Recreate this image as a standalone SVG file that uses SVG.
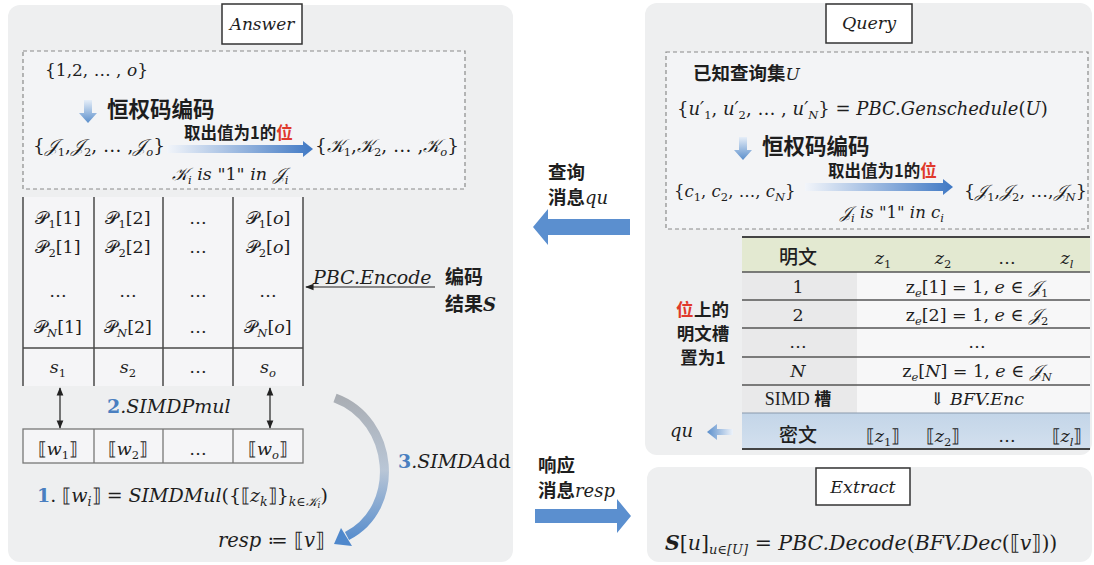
<svg xmlns="http://www.w3.org/2000/svg" width="1094" height="565" viewBox="0 0 1094 565">
<defs>
<style>
.pn{fill:#eeeff0}
.lbl{fill:#fff;stroke:#333;stroke-width:1.5}
.dash{fill:#f3f4f6;stroke:#8a8a8a;stroke-width:1.2;stroke-dasharray:4 3}
.m{font-family:"DejaVu Serif","Liberation Serif",serif;fill:#1e1e1e}
.i{font-style:italic}
.c{text-anchor:middle}
.zh{font-family:"Noto Sans CJK SC",sans-serif;font-weight:700;fill:#1e1e1e}
.sb{font-size:11.5px}
.bl{fill:#4a7fc0;font-weight:bold;font-style:normal}
.red{fill:#e0392b}
.ln{stroke:#4a4a4a;stroke-width:1.5;fill:none}
.thin{stroke:#222;stroke-width:1.2;fill:none}
.big{fill:#5b8fcf}
</style>
<linearGradient id="gv" x1="0" y1="0" x2="0" y2="1"><stop offset="0" stop-color="#e6eef8"/><stop offset="1" stop-color="#5a8ecb"/></linearGradient>
<linearGradient id="gh" x1="0" y1="0" x2="1" y2="0"><stop offset="0" stop-color="#f2f5fa"/><stop offset="1" stop-color="#3f78c4"/></linearGradient>
<linearGradient id="ghl" x1="1" y1="0" x2="0" y2="0"><stop offset="0" stop-color="#eef3fa"/><stop offset="1" stop-color="#5a8ecb"/></linearGradient>
<linearGradient id="gc" gradientUnits="userSpaceOnUse" x1="0" y1="395" x2="0" y2="545"><stop offset="0" stop-color="#a9adb3"/><stop offset="0.5" stop-color="#b9c6d6"/><stop offset="1" stop-color="#4f88cc"/></linearGradient>
<linearGradient id="gblue" x1="0" y1="0" x2="0" y2="1"><stop offset="0" stop-color="#c3d5e8"/><stop offset="1" stop-color="#d3e0ee"/></linearGradient>
<marker id="ah" viewBox="0 0 10 10" refX="9" refY="5" markerWidth="7" markerHeight="7" orient="auto-start-reverse"><path d="M0,1 L10,5 L0,9 z" fill="#222"/></marker>
</defs>
<rect width="1094" height="565" fill="#ffffff"/>

<!-- Answer panel -->
<g id="answer">
<rect class="pn" x="8" y="5" width="505" height="557" rx="12"/>
<rect class="lbl" x="222" y="4" width="80" height="40"/>
<text class="m i c" x="262" y="30" font-size="17">Answer</text>
</g>

<g id="answer-encode">
<rect class="dash" x="23" y="51" width="442" height="138"/>
<text class="m" x="45" y="76" font-size="17">{1,2, … , <tspan class="i">o</tspan>}</text>
<path d="M84,100 H92 V113 H97 L88,123 L79,113 H84 Z" fill="url(#gv)"/>
<text class="zh" x="107" y="117" font-size="21.5">恒权码编码</text>
<text class="m" x="33" y="152" font-size="18.5">{<tspan class="i">𝒥</tspan><tspan class="sb" dy="4">1</tspan><tspan dy="-4">,</tspan><tspan class="i">𝒥</tspan><tspan class="sb" dy="4">2</tspan><tspan dy="-4">, … ,</tspan><tspan class="i">𝒥</tspan><tspan class="sb i" dy="4">o</tspan><tspan dy="-4">}</tspan></text>
<path d="M167,145 H303 V141 L313,149 L303,157 V153 H167 Z" fill="url(#gh)"/>
<text class="zh" x="184" y="139" font-size="16.5">取出值为1的<tspan class="red">位</tspan></text>
<text class="m" x="315" y="152" font-size="18.5">{<tspan class="i">𝒦</tspan><tspan class="sb" dy="4">1</tspan><tspan dy="-4">,</tspan><tspan class="i">𝒦</tspan><tspan class="sb" dy="4">2</tspan><tspan dy="-4">, … ,</tspan><tspan class="i">𝒦</tspan><tspan class="sb i" dy="4">o</tspan><tspan dy="-4">}</tspan></text>
<text class="m i" x="172" y="180" font-size="17.5">𝒦<tspan class="sb" dy="4">i</tspan><tspan dy="-4"> is </tspan><tspan font-style="normal">"1"</tspan> in 𝒥<tspan class="sb" dy="4">i</tspan></text>
</g>

<g id="answer-table">
<rect x="23" y="197" width="280" height="189" fill="#f5f5f7"/>
<path class="ln" d="M23,197 V386 M94,197 V386 M163,197 V386 M233,197 V386 M303,197 V386 M23,348 H303"/>
<g class="m c" font-size="17.5">
<text x="58" y="224">𝒫<tspan class="sb" dy="4">1</tspan><tspan dy="-4">[1]</tspan></text>
<text x="128" y="224">𝒫<tspan class="sb" dy="4">1</tspan><tspan dy="-4">[2]</tspan></text>
<text x="198" y="224">…</text>
<text x="268" y="224">𝒫<tspan class="sb" dy="4">1</tspan><tspan dy="-4">[<tspan class="i">o</tspan>]</tspan></text>
<text x="58" y="253">𝒫<tspan class="sb" dy="4">2</tspan><tspan dy="-4">[1]</tspan></text>
<text x="128" y="253">𝒫<tspan class="sb" dy="4">2</tspan><tspan dy="-4">[2]</tspan></text>
<text x="198" y="253">…</text>
<text x="268" y="253">𝒫<tspan class="sb" dy="4">2</tspan><tspan dy="-4">[<tspan class="i">o</tspan>]</tspan></text>
<text x="58" y="297">…</text>
<text x="128" y="297">…</text>
<text x="198" y="297">…</text>
<text x="268" y="297">…</text>
<text x="58" y="333">𝒫<tspan class="sb i" dy="4">N</tspan><tspan dy="-4">[1]</tspan></text>
<text x="128" y="333">𝒫<tspan class="sb i" dy="4">N</tspan><tspan dy="-4">[2]</tspan></text>
<text x="198" y="333">…</text>
<text x="268" y="333">𝒫<tspan class="sb i" dy="4">N</tspan><tspan dy="-4">[<tspan class="i">o</tspan>]</tspan></text>
<text x="58" y="373"><tspan class="i">s</tspan><tspan class="sb" dy="4">1</tspan></text>
<text x="128" y="373"><tspan class="i">s</tspan><tspan class="sb" dy="4">2</tspan></text>
<text x="198" y="373">…</text>
<text x="268" y="373"><tspan class="i">s</tspan><tspan class="sb i" dy="4">o</tspan></text>
</g>
</g>

<g id="encode-label">
<text class="m i" x="313" y="284" font-size="19">PBC.Encode</text>
<text class="zh" x="445" y="284" font-size="19">编码</text>
<text class="zh" x="445" y="311" font-size="19">结果<tspan class="m i" font-weight="bold" font-size="18">S</tspan></text>
</g>

<g id="w-row">
<rect x="23" y="429" width="280" height="34" fill="#f5f5f7" stroke="#777" stroke-width="1.3"/>
<path d="M94,429 V463 M163,429 V463 M233,429 V463" stroke="#777" stroke-width="1.3"/>
<g class="m c" font-size="17.5">
<text x="58" y="455">⟦<tspan class="i">w</tspan><tspan class="sb" dy="4">1</tspan><tspan dy="-4">⟧</tspan></text>
<text x="128" y="455">⟦<tspan class="i">w</tspan><tspan class="sb" dy="4">2</tspan><tspan dy="-4">⟧</tspan></text>
<text x="198" y="455">…</text>
<text x="268" y="455">⟦<tspan class="i">w</tspan><tspan class="sb i" dy="4">o</tspan><tspan dy="-4">⟧</tspan></text>
</g>
<text class="m i" x="107" y="413" font-size="19"><tspan class="bl">2</tspan>.SIMDPmul</text>
<text class="m" x="37" y="502" font-size="19"><tspan class="bl">1</tspan>. ⟦<tspan class="i">w</tspan><tspan class="i" font-size="12.5" dy="4">i</tspan><tspan dy="-4">⟧ = </tspan><tspan class="i">SIMDMul</tspan>({⟦<tspan class="i">z</tspan><tspan class="i" font-size="12.5" dy="4">k</tspan><tspan dy="-4">⟧}</tspan><tspan class="i" font-size="12.5" dy="4">k∈𝒦</tspan><tspan class="i" font-size="9" dy="2">i</tspan><tspan dy="-6">)</tspan></text>
<text class="m i" x="398" y="468" font-size="19"><tspan class="bl">3</tspan>.SIMDA<tspan font-style="normal">dd</tspan></text>
<text class="m i" x="218" y="547" font-size="19.5">resp <tspan font-style="normal">≔ ⟦</tspan>v<tspan font-style="normal">⟧</tspan></text>
</g>

<g id="msg-labels">
<text class="zh" x="548" y="179" font-size="18.5">查询</text>
<text class="zh" x="548" y="204" font-size="18.5">消息<tspan class="m i" font-weight="normal" font-size="18">qu</tspan></text>
<text class="zh" x="538" y="472" font-size="18.5">响应</text>
<text class="zh" x="538" y="497" font-size="18.5">消息<tspan class="m i" font-weight="normal" font-size="18">resp</tspan></text>
</g>

<!-- Query panel -->
<g id="query">
<rect class="pn" x="645" y="3" width="447" height="452" rx="12"/>
<rect class="lbl" x="826" y="4" width="86" height="39"/>
<text class="m i c" x="869" y="29" font-size="17.5">Query</text>
</g>

<g id="query-encode">
<rect class="dash" x="666" y="52" width="422" height="177"/>
<text class="zh" x="693" y="80" font-size="18.5">已知查询集<tspan class="m i" font-weight="normal" font-size="17">U</tspan></text>
<text class="m" x="677" y="115" font-size="18">{<tspan class="i">u′</tspan><tspan class="sb" dy="4">1</tspan><tspan dy="-4">, </tspan><tspan class="i">u′</tspan><tspan class="sb" dy="4">2</tspan><tspan dy="-4">, … , </tspan><tspan class="i">u′</tspan><tspan class="sb i" dy="4">N</tspan><tspan dy="-4">} = </tspan><tspan class="i">PBC.Genschedule</tspan>(<tspan class="i">U</tspan>)</text>
<path d="M739,137 H747 V150 H752 L743,160 L734,150 H739 Z" fill="url(#gv)"/>
<text class="zh" x="762" y="154" font-size="21.5">恒权码编码</text>
<text class="m" x="674" y="197" font-size="16.5">{<tspan class="i">c</tspan><tspan class="sb" dy="4">1</tspan><tspan dy="-4">, </tspan><tspan class="i">c</tspan><tspan class="sb" dy="4">2</tspan><tspan dy="-4">, …, </tspan><tspan class="i">c</tspan><tspan class="sb i" dy="4">N</tspan><tspan dy="-4">}</tspan></text>
<path d="M805,183 H943 V179 L953,187 L943,195 V191 H805 Z" fill="url(#gh)"/>
<text class="zh" x="828" y="177" font-size="16.5">取出值为1的<tspan class="red">位</tspan></text>
<text class="m" x="964" y="197" font-size="17.5">{<tspan class="i">𝒥</tspan><tspan class="sb" dy="4">1</tspan><tspan dy="-4">,</tspan><tspan class="i">𝒥</tspan><tspan class="sb" dy="4">2</tspan><tspan dy="-4">, …,</tspan><tspan class="i">𝒥</tspan><tspan class="sb i" dy="4">N</tspan><tspan dy="-4">}</tspan></text>
<text class="m i" x="840" y="218" font-size="16.5">𝒥<tspan class="sb" dy="4">i</tspan><tspan dy="-4"> is </tspan><tspan font-style="normal">"1"</tspan> in c<tspan class="sb" dy="4">i</tspan></text>
</g>

<g id="query-table">
<rect x="742" y="237" width="348" height="35" fill="#e3e9d1"/>
<rect x="742" y="272" width="115" height="141" fill="#e9e9ea"/>
<rect x="857" y="272" width="233" height="141" fill="#f7f7f8"/>
<rect x="742" y="413" width="348" height="36" fill="url(#gblue)"/>
<path d="M742,237 H1090 M742,449 H1090" stroke="#444" stroke-width="2"/>
<path d="M742,272 H1090 M742,300 H1090 M742,328 H1090 M742,357 H1090 M742,385 H1090" stroke="#555" stroke-width="1.6"/>
<path d="M742,413 H1090" stroke="#8a9aab" stroke-width="1.2"/>
<g class="m c" font-size="17.5">
<text class="zh" x="798" y="264" font-size="19" style="font-weight:500">明文</text>
<text x="883" y="264" class="i">z<tspan class="sb" font-style="normal" dy="4">1</tspan></text>
<text x="943" y="264" class="i">z<tspan class="sb" font-style="normal" dy="4">2</tspan></text>
<text x="1007" y="264">…</text>
<text x="1067" y="264" class="i">z<tspan class="sb" dy="4">l</tspan></text>
<text x="798" y="293">1</text>
<text x="977" y="293">z<tspan class="sb i" dy="4">e</tspan><tspan dy="-4">[1] = 1, </tspan><tspan class="i">e</tspan> ∈ <tspan class="i">𝒥</tspan><tspan class="sb" dy="4">1</tspan></text>
<text x="798" y="321">2</text>
<text x="977" y="321">z<tspan class="sb i" dy="4">e</tspan><tspan dy="-4">[2] = 1, </tspan><tspan class="i">e</tspan> ∈ <tspan class="i">𝒥</tspan><tspan class="sb" dy="4">2</tspan></text>
<text x="798" y="348">…</text>
<text x="977" y="348">…</text>
<text x="798" y="377" class="i">N</text>
<text x="977" y="377">z<tspan class="sb i" dy="4">e</tspan><tspan dy="-4">[</tspan><tspan class="i">N</tspan>] = 1, <tspan class="i">e</tspan> ∈ <tspan class="i">𝒥</tspan><tspan class="sb i" dy="4">N</tspan></text>
<text x="798" y="405" font-family="Liberation Serif" font-size="18">SIMD <tspan class="zh" font-size="17">槽</tspan></text>
<text x="977" y="405">⇓ <tspan class="i">BFV.Enc</tspan></text>
<text class="zh" x="798" y="442" font-size="19" style="font-weight:500">密文</text>
<text x="883" y="442">⟦<tspan class="i">z</tspan><tspan class="sb" dy="4">1</tspan><tspan dy="-4">⟧</tspan></text>
<text x="943" y="442">⟦<tspan class="i">z</tspan><tspan class="sb" dy="4">2</tspan><tspan dy="-4">⟧</tspan></text>
<text x="1007" y="442">…</text>
<text x="1067" y="442">⟦<tspan class="i">z</tspan><tspan class="sb i" dy="4">l</tspan><tspan dy="-4">⟧</tspan></text>
</g>
<text class="zh red" x="676" y="316" font-size="17.5">位</text>
<text class="zh" x="694" y="316" font-size="17.5">上的</text>
<text class="zh c" x="703" y="340" font-size="17.5">明文槽</text>
<text class="zh c" x="703" y="364" font-size="17.5">置为1</text>
<text class="m i" x="670" y="437" font-size="18">qu</text>
</g>

<!-- Extract panel -->
<g id="extract">
<rect class="pn" x="647" y="467" width="445" height="95" rx="12"/>
<rect class="lbl" x="816" y="468" width="94" height="37"/>
<text class="m i c" x="863" y="493" font-size="17.5">Extract</text>
<text class="m" x="665" y="550" font-size="20.5"><tspan class="i" font-weight="bold">S</tspan>[<tspan class="i">u</tspan>]<tspan class="i" font-size="13" dy="4">u∈[U]</tspan><tspan dy="-4"> = </tspan><tspan class="i">PBC.Decode</tspan>(<tspan class="i">BFV.Dec</tspan>(⟦<tspan class="i">v</tspan>⟧))</text>
</g>

<g id="connectors">
<path class="thin" d="M60,388 V428" marker-start="url(#ah)" marker-end="url(#ah)"/>
<path class="thin" d="M270,388 V428" marker-start="url(#ah)" marker-end="url(#ah)"/>
<path class="thin" d="M435,287 H306" marker-end="url(#ah)"/>
<path d="M335,398 C395,420 402,508 347,536" stroke="url(#gc)" stroke-width="9" fill="none"/>
<path d="M334,544 L341,528 L352,546 Z" fill="#4f88cc"/>
<path class="big" d="M630,219 H548 V209 L533,227 L548,245 V235 H630 Z"/>
<path class="big" d="M535,509 H617 V499 L631,516 L617,533 V523 H535 Z"/>
<path d="M733,429 H717 V424 L707,432 L717,440 V435 H733 Z" fill="url(#ghl)"/>
</g>
</svg>
